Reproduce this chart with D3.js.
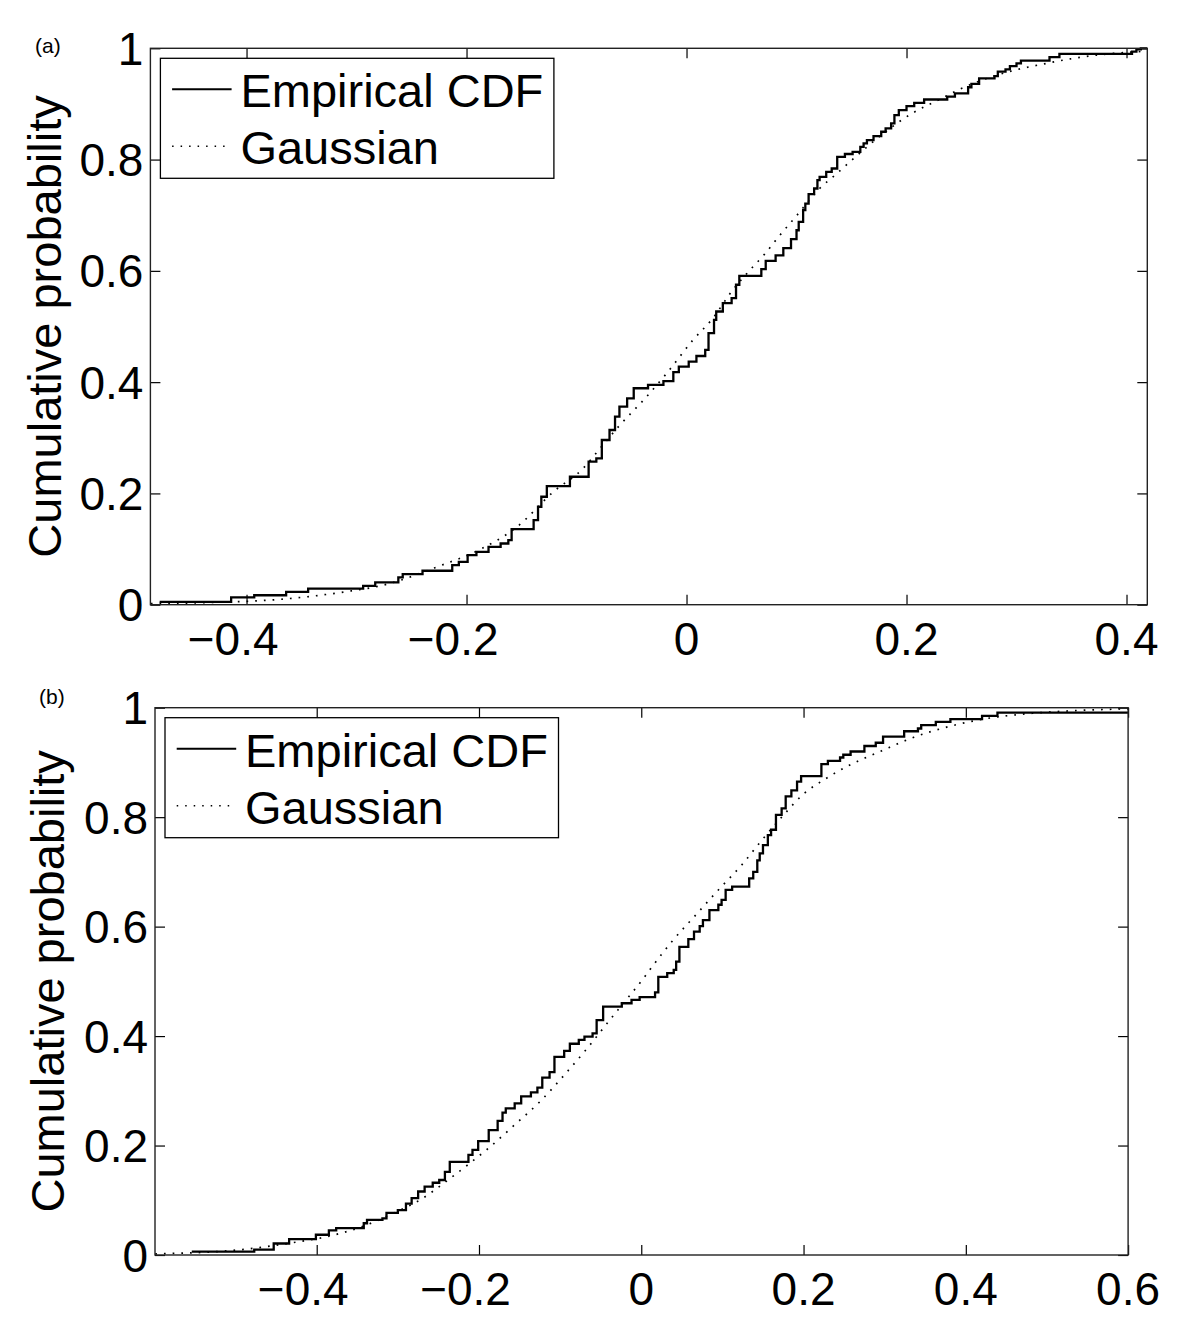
<!DOCTYPE html>
<html>
<head>
<meta charset="utf-8">
<script src="https://cdn.jsdelivr.net/npm/d3@7"></script>
<style>
body { margin: 0; background: #fff; }
svg text { font-family: "Liberation Sans", Arial, Helvetica, sans-serif; fill: #000; }
</style>
</head>
<body>
<svg id="fig" width="1200" height="1330"></svg>
<script>
// ---- panel (a) ----
var aEcdfX = [-0.479, -0.414, -0.393, -0.364, -0.344, -0.294, -0.283, -0.262, -0.258, -0.240,
    -0.213, -0.207, -0.199, -0.191, -0.180, -0.169, -0.162, -0.159, -0.139, -0.135,
    -0.132, -0.127, -0.106, -0.089, -0.082, -0.077, -0.070, -0.065, -0.061, -0.054,
    -0.048, -0.035, -0.021, -0.012, -0.007, 0.002, 0.009, 0.017, 0.020, 0.025,
    0.027, 0.033, 0.041, 0.045, 0.048, 0.068, 0.072, 0.081, 0.088, 0.095,
    0.100, 0.102, 0.106, 0.108, 0.111, 0.116, 0.119, 0.121, 0.127, 0.132,
    0.137, 0.144, 0.151, 0.158, 0.161, 0.164, 0.170, 0.177, 0.181, 0.186,
    0.189, 0.193, 0.200, 0.207, 0.216, 0.237, 0.244, 0.256, 0.259, 0.266,
    0.280, 0.283, 0.290, 0.294, 0.300, 0.304, 0.330, 0.339, 0.405, 0.409, 0.413];
var aEcdfY = [0.005, 0.013, 0.017, 0.023, 0.029, 0.034, 0.040, 0.049, 0.055, 0.061,
    0.071, 0.077, 0.089, 0.095, 0.104, 0.110, 0.116, 0.136, 0.152, 0.176,
    0.194, 0.213, 0.230, 0.257, 0.263, 0.296, 0.314, 0.338, 0.356, 0.371,
    0.389, 0.395, 0.402, 0.418, 0.428, 0.437, 0.447, 0.458, 0.488, 0.512,
    0.527, 0.542, 0.551, 0.575, 0.591, 0.603, 0.618, 0.628, 0.641, 0.657,
    0.673, 0.688, 0.709, 0.721, 0.738, 0.748, 0.763, 0.769, 0.778, 0.784,
    0.805, 0.810, 0.814, 0.823, 0.829, 0.835, 0.842, 0.850, 0.856, 0.865,
    0.880, 0.889, 0.896, 0.902, 0.908, 0.913, 0.919, 0.930, 0.936, 0.946,
    0.950, 0.958, 0.962, 0.968, 0.973, 0.978, 0.984, 0.990, 0.994, 0.998, 1.000];
var aGaussX = [-0.487, -0.415, -0.381, -0.346, -0.311, -0.276, -0.224, -0.189, -0.154, -0.121,
    -0.094, -0.079, -0.061, -0.039, -0.018, 0.006, 0.024, 0.041, 0.057, 0.071,
    0.084, 0.100, 0.121, 0.135, 0.152, 0.179, 0.205, 0.228, 0.248, 0.269,
    0.301, 0.325, 0.349, 0.374, 0.419];
var aGaussY = [0.002, 0.005, 0.008, 0.014, 0.023, 0.035, 0.070, 0.098, 0.140, 0.203,
    0.245, 0.280, 0.322, 0.368, 0.416, 0.476, 0.515, 0.563, 0.600, 0.630,
    0.662, 0.699, 0.748, 0.772, 0.802, 0.847, 0.883, 0.906, 0.926, 0.943,
    0.962, 0.972, 0.981, 0.988, 0.995];
var aTicksX = [-0.4, -0.2, 0, 0.2, 0.4];

// ---- panel (b) ----
var bEcdfX = [-0.554, -0.477, -0.453, -0.434, -0.401, -0.385, -0.376, -0.342, -0.338, -0.319,
    -0.314, -0.300, -0.290, -0.283, -0.275, -0.267, -0.257, -0.249, -0.242, -0.236,
    -0.213, -0.208, -0.201, -0.188, -0.177, -0.171, -0.167, -0.156, -0.148, -0.136,
    -0.128, -0.122, -0.113, -0.107, -0.095, -0.088, -0.077, -0.070, -0.060, -0.055,
    -0.047, -0.024, -0.012, -0.002, 0.017, 0.021, 0.032, 0.040, 0.043, 0.047,
    0.058, 0.065, 0.072, 0.076, 0.084, 0.095, 0.099, 0.104, 0.112, 0.133,
    0.138, 0.143, 0.146, 0.150, 0.156, 0.160, 0.166, 0.173, 0.178, 0.185,
    0.192, 0.197, 0.222, 0.230, 0.245, 0.249, 0.258, 0.275, 0.289, 0.298,
    0.324, 0.341, 0.345, 0.363, 0.381, 0.420, 0.439];
var bEcdfY = [0.006, 0.010, 0.021, 0.029, 0.037, 0.045, 0.049, 0.058, 0.064, 0.067,
    0.077, 0.082, 0.094, 0.104, 0.116, 0.125, 0.132, 0.137, 0.152, 0.170,
    0.183, 0.192, 0.208, 0.228, 0.245, 0.260, 0.268, 0.277, 0.290, 0.297,
    0.306, 0.324, 0.334, 0.362, 0.373, 0.386, 0.393, 0.399, 0.405, 0.429,
    0.454, 0.460, 0.466, 0.471, 0.480, 0.508, 0.515, 0.521, 0.536, 0.563,
    0.577, 0.591, 0.601, 0.612, 0.630, 0.640, 0.649, 0.667, 0.673, 0.688,
    0.700, 0.721, 0.734, 0.749, 0.767, 0.777, 0.804, 0.816, 0.838, 0.849,
    0.865, 0.875, 0.897, 0.903, 0.909, 0.914, 0.920, 0.930, 0.936, 0.947,
    0.957, 0.962, 0.968, 0.974, 0.979, 0.985, 0.991];
var bGaussX = [-0.599, -0.507, -0.479, -0.432, -0.389, -0.342, -0.306, -0.269, -0.240, -0.211,
    -0.186, -0.156, -0.125, -0.096, -0.067, -0.039, -0.022, 0.003, 0.011, 0.039,
    0.067, 0.095, 0.124, 0.147, 0.176, 0.199, 0.227, 0.258, 0.296, 0.336,
    0.383, 0.421, 0.468, 0.525, 0.600];
var bGaussY = [0.002, 0.008, 0.012, 0.022, 0.033, 0.053, 0.076, 0.104, 0.135, 0.168,
    0.198, 0.238, 0.280, 0.327, 0.377, 0.429, 0.460, 0.506, 0.522, 0.575,
    0.621, 0.667, 0.713, 0.755, 0.805, 0.841, 0.870, 0.896, 0.921, 0.946,
    0.967, 0.979, 0.988, 0.994, 0.998];
var bTicksX = [-0.4, -0.2, 0, 0.2, 0.4, 0.6];

var yTicks = [0, 0.2, 0.4, 0.6, 0.8, 1];
var seriesNames = ["Empirical CDF", "Gaussian"];
var yTitle = "Cumulative probability";

var svg = d3.select("#fig");
svg.append("rect").attr("width", 1200).attr("height", 1330).attr("fill", "#fff");

var panels = [
    { id: "a", tag: "(a)", left: 150.4, right: 1147.3, top: 48.3, bottom: 604.7,
      domain: [-0.4874, 0.4189], ticks: aTicksX, ex: aEcdfX, ey: aEcdfY, gx: aGaussX, gy: aGaussY,
      tagX: 35, tagY: 53, titleX: 61 },
    { id: "b", tag: "(b)", left: 155, right: 1128.1, top: 707.7, bottom: 1255,
      domain: [-0.5993, 0.6], ticks: bTicksX, ex: bEcdfX, ey: bEcdfY, gx: bGaussX, gy: bGaussY,
      tagX: 39, tagY: 704, titleX: 63.5 }
];

panels.forEach(function(p) { drawPanel(p); });

function drawPanel(p) {
    var x = d3.scaleLinear().domain(p.domain).range([p.left, p.right]);
    var y = d3.scaleLinear().domain([0, 1]).range([p.bottom, p.top]);
    var g = svg.append("g").attr("class", "panel-" + p.id);

    g.append("clipPath").attr("id", "clip-" + p.id)
        .append("rect")
        .attr("x", p.left).attr("y", p.top - 2)
        .attr("width", p.right - p.left).attr("height", p.bottom - p.top + 2);

    // inward ticks on all four sides
    var tickStyle = function(sel) {
        sel.select(".domain").remove();
        sel.selectAll(".tick line").attr("stroke", "#000").attr("stroke-width", 1.2);
    };
    g.append("g").attr("transform", "translate(0," + p.bottom + ")")
        .call(d3.axisBottom(x).tickValues(p.ticks).tickSize(-10).tickSizeOuter(0).tickFormat(""))
        .call(tickStyle);
    g.append("g").attr("transform", "translate(0," + p.top + ")")
        .call(d3.axisTop(x).tickValues(p.ticks).tickSize(-10).tickSizeOuter(0).tickFormat(""))
        .call(tickStyle);
    g.append("g").attr("transform", "translate(" + p.left + ",0)")
        .call(d3.axisLeft(y).tickValues(yTicks).tickSize(-10).tickSizeOuter(0).tickFormat(""))
        .call(tickStyle);
    g.append("g").attr("transform", "translate(" + p.right + ",0)")
        .call(d3.axisRight(y).tickValues(yTicks).tickSize(-10).tickSizeOuter(0).tickFormat(""))
        .call(tickStyle);

    // curves
    var gauss = p.gx.map(function(v, i) { return [v, p.gy[i]]; });
    g.append("path")
        .datum(gauss)
        .attr("clip-path", "url(#clip-" + p.id + ")")
        .attr("fill", "none")
        .attr("stroke", "#000")
        .attr("stroke-width", 1.7)
        .attr("stroke-dasharray", "1.7,7")
        .attr("d", d3.line().curve(d3.curveMonotoneX)
            .x(function(d) { return x(d[0]); })
            .y(function(d) { return y(d[1]); }));

    var steps = p.ex.map(function(v, i) { return [v, p.ey[i]]; });
    steps.push([p.domain[1], p.ey[p.ey.length - 1]]);
    g.append("path")
        .datum(steps)
        .attr("clip-path", "url(#clip-" + p.id + ")")
        .attr("fill", "none")
        .attr("stroke", "#000")
        .attr("stroke-width", 2.3)
        .attr("d", d3.line().curve(d3.curveStepAfter)
            .x(function(d) { return x(d[0]); })
            .y(function(d) { return y(d[1]); }));

    // box
    g.append("rect")
        .attr("x", p.left).attr("y", p.top)
        .attr("width", p.right - p.left).attr("height", p.bottom - p.top)
        .attr("fill", "none").attr("stroke", "#222").attr("stroke-width", 1.4);

    // x tick labels: number centred on the tick, minus hangs to the left
    p.ticks.forEach(function(t) {
        var num = g.append("text")
            .attr("x", x(t)).attr("y", p.bottom + 50)
            .attr("text-anchor", "middle")
            .style("font-size", "46px")
            .text(String(Math.abs(t)));
        if (t < 0) {
            var w = num.node().getComputedTextLength();
            g.append("text")
                .attr("x", x(t) - w / 2).attr("y", p.bottom + 50)
                .attr("text-anchor", "end")
                .style("font-size", "46px")
                .text("\u2212");
        }
    });

    // y tick labels
    g.selectAll("text.ylab")
        .data(yTicks)
        .join("text").attr("class", "ylab")
        .attr("x", p.left - 7)
        .attr("y", function(d) { return y(d); })
        .attr("dy", "0.36em")
        .attr("text-anchor", "end")
        .style("font-size", "46px")
        .text(function(d) { return String(d); });

    g.append("text")
        .attr("transform", "translate(" + p.titleX + "," + ((p.top + p.bottom) / 2) + ") rotate(-90)")
        .attr("text-anchor", "middle")
        .style("font-size", "47px")
        .text(yTitle);

    g.append("text")
        .attr("x", p.tagX).attr("y", p.tagY)
        .style("font-size", "21px")
        .text(p.tag);

    // legend
    var lg = g.append("g").attr("transform", "translate(" + (p.left + 10) + "," + (p.top + 10) + ")");
    lg.append("rect")
        .attr("width", 393.5).attr("height", 120)
        .attr("fill", "#fff").attr("stroke", "#000").attr("stroke-width", 1.3);
    seriesNames.forEach(function(name, i) {
        var ly = 31 + i * 57;
        lg.append("line")
            .attr("x1", 11.7).attr("x2", 71.2)
            .attr("y1", ly).attr("y2", ly)
            .attr("stroke", "#000")
            .attr("stroke-width", i == 0 ? 2 : 1.5)
            .attr("stroke-dasharray", i == 0 ? null : "1.5,7");
        lg.append("text")
            .attr("x", 80).attr("y", ly + 18)
            .style("font-size", "47px")
            .text(name);
    });
}
</script>
</body>
</html>
